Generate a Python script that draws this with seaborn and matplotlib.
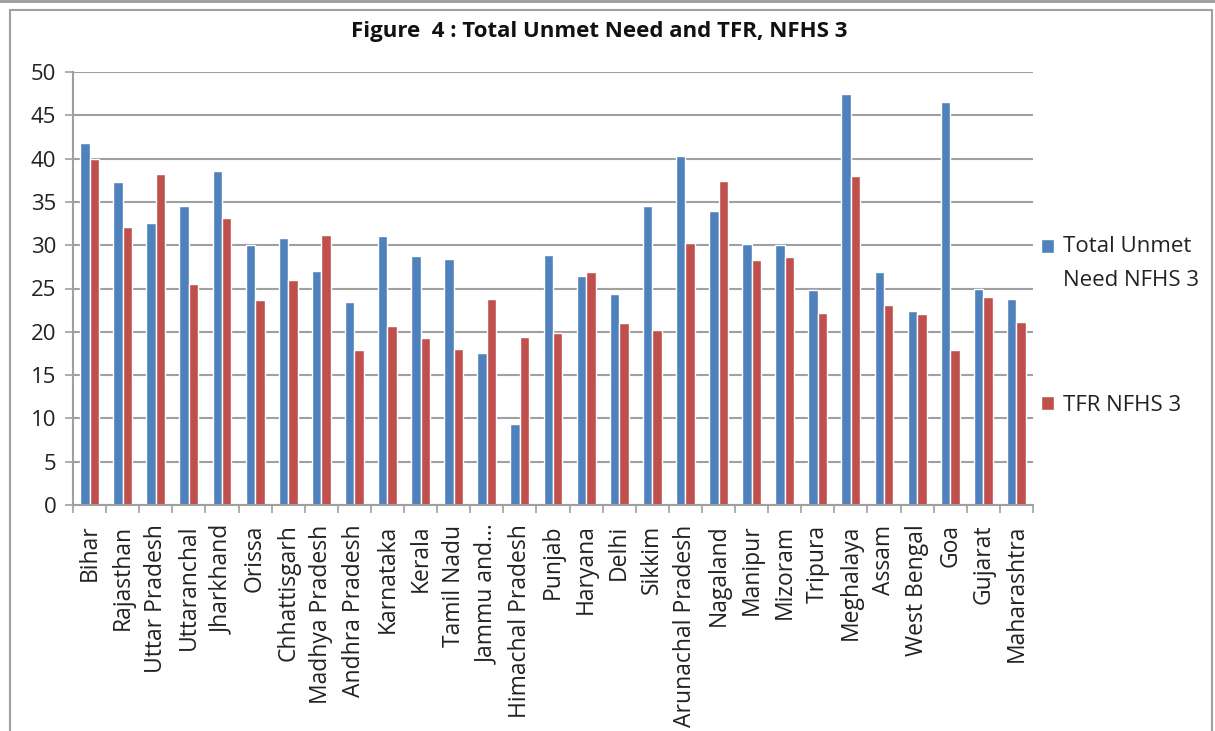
import matplotlib
matplotlib.use("Agg")
import matplotlib.pyplot as plt
import seaborn as sns
import pandas as pd
import numpy as np
from matplotlib.patches import Rectangle, Patch
from matplotlib.legend_handler import HandlerPatch

states = ["Bihar", "Rajasthan", "Uttar Pradesh", "Uttaranchal", "Jharkhand", "Orissa",
          "Chhattisgarh", "Madhya Pradesh", "Andhra Pradesh", "Karnataka", "Kerala",
          "Tamil Nadu", "Jammu and...", "Himachal Pradesh", "Punjab", "Haryana", "Delhi",
          "Sikkim", "Arunachal Pradesh", "Nagaland", "Manipur", "Mizoram", "Tripura",
          "Meghalaya", "Assam", "West Bengal", "Goa", "Gujarat", "Maharashtra"]
unmet_need = [41.8, 37.3, 32.6, 34.5, 38.6, 30.0, 30.8, 27.0, 23.4, 31.1, 28.8, 28.4, 17.5,
              9.3, 28.9, 26.5, 24.4, 34.5, 40.3, 33.9, 30.1, 30.0, 24.8, 47.5, 26.9, 22.4,
              46.5, 25.0, 23.8]
tfr = [40.0, 32.1, 38.2, 25.5, 33.1, 23.7, 26.0, 31.2, 17.9, 20.7, 19.3, 18.0, 23.8,
       19.4, 19.9, 26.9, 21.0, 20.2, 30.3, 37.4, 28.3, 28.6, 22.2, 38.0, 23.1, 22.1,
       17.9, 24.0, 21.1]
series_names = ["Total Unmet Need NFHS 3", "TFR NFHS 3"]
legend_labels = ["Total Unmet\nNeed NFHS 3", "TFR NFHS 3"]
title = "Figure  4 : Total Unmet Need and TFR, NFHS 3"

df = pd.DataFrame({
    "State": states * 2,
    "Value": unmet_need + tfr,
    "Series": [series_names[0]] * len(states) + [series_names[1]] * len(states),
})

sns.set_theme(style="white")
plt.rcParams['font.family'] = ['Open Sans', 'DejaVu Sans']

fig = plt.figure(figsize=(12.15, 7.31), dpi=100)
ax = fig.add_axes([73 / 1215, 1 - 505 / 731, (1033 - 73) / 1215, (505 - 72) / 731])

colors = ["#4F81BD", "#C0504D"]
palette = dict(zip(series_names, colors))
sns.barplot(data=df, x="State", y="Value", hue="Series", palette=palette,
            width=0.57, ax=ax, saturation=1, legend=False)

ax.set_ylim(0, 50)
ax.set_xlim(-0.5, len(states) - 0.5)
ax.set_yticks(np.arange(0, 51, 5))
ax.yaxis.grid(True, color="#A0A0A0", linewidth=1.5)
ax.set_axisbelow(True)
ax.set_xlabel("")
ax.set_ylabel("")
ax.tick_params(axis="y", labelsize=16, colors="#222222", pad=6,
               length=6, width=1.2, direction="out", left=True)
for lbl in ax.get_yticklabels():
    lbl.set_color("#222222")
ax.tick_params(axis="y", which="major", color="#A0A0A0")
ax.set_xticks(range(len(states)))
ax.set_xticklabels(states, rotation=90, fontsize=16.5, color="#222222")
ax.tick_params(axis="x", length=0, pad=14)
ax.set_xticks(np.arange(-0.5, len(states), 1), minor=True)
ax.tick_params(axis="x", which="minor", length=6, width=1.2, color="#A0A0A0",
               direction="out", bottom=True)
for s in ["top", "right"]:
    ax.spines[s].set_visible(False)
for s in ["left", "bottom"]:
    ax.spines[s].set_color("#A0A0A0")
    ax.spines[s].set_linewidth(1.5)

fig.text(599 / 1215, 1 - 32 / 731, title, ha="center", va="center",
         fontsize=16, fontweight="bold", color="#111111")


# legend: square aligned with the first line of the two-line label
def raised_square(legend, orig_handle, xdescent, ydescent, width, height, fontsize):
    return Rectangle((-xdescent, -ydescent + 12.5), width, height)


handles = [Patch(facecolor=c) for c in colors]
leg = fig.legend(handles, legend_labels,
                 loc="upper left", bbox_to_anchor=(1032 / 1215, 1 - 227 / 731),
                 frameon=False, fontsize=16, handlelength=0.6, handleheight=0.6,
                 handletextpad=0.4, labelspacing=4.7, borderaxespad=0,
                 handler_map={handles[0]: HandlerPatch(patch_func=raised_square)})
for t in leg.get_texts():
    t.set_linespacing(1.8)
    t.set_color("#222222")

# outer border
fig.patches.append(Rectangle((10 / 1215, -0.01), 1202 / 1215, 1 - 10 / 731 + 0.01,
                             transform=fig.transFigure, fill=False,
                             edgecolor="#A0A0A0", linewidth=1.5))
fig.patches.append(Rectangle((0, 1 - 3 / 731), 1, 3 / 731, transform=fig.transFigure,
                             facecolor="#A0A0A0", edgecolor="none"))

fig.savefig("out.png", dpi=100)
